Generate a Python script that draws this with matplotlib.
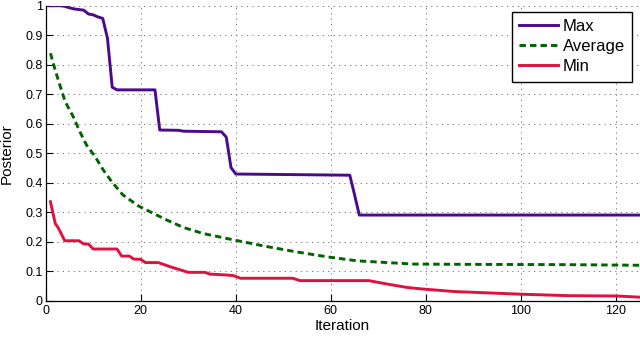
"""Posterior vs iteration: max / average / min curves."""

import matplotlib

matplotlib.use("Agg")
import matplotlib.pyplot as plt

plt.rcParams["font.family"] = ["Liberation Sans", "DejaVu Sans"]

# values (breakpoints of each curve)
max_iter = [1, 3, 4, 5, 6, 8, 9, 10, 11, 12, 13, 14, 15, 23, 24, 28, 29, 37, 38, 39, 40, 64, 65, 66, 125]
max_post = [1.0, 1.0, 0.998, 0.993, 0.989, 0.985, 0.972, 0.969, 0.962, 0.957, 0.89, 0.724, 0.715,
            0.715, 0.579, 0.578, 0.575, 0.573, 0.555, 0.452, 0.43, 0.426, 0.36, 0.291, 0.291]

avg_iter = [1, 2, 3.2, 4.1, 5.8, 7.2, 8.6, 10.4, 12.1, 13.9, 16.2, 19.5, 22, 25.5, 29, 33, 39.5,
            46, 52.5, 59.5, 65.5, 72, 77.5, 90, 110, 125]
avg_post = [0.839, 0.782, 0.72, 0.675, 0.624, 0.573, 0.528, 0.489, 0.444, 0.404, 0.36, 0.322, 0.302,
            0.274, 0.249, 0.229, 0.207, 0.186, 0.167, 0.149, 0.136, 0.13, 0.125, 0.124, 0.123, 0.121]

min_iter = [1, 2, 2.7, 4, 7, 8, 9, 10, 15, 16, 17.6, 18.5, 20, 21, 23.7, 26.2, 29, 30, 33.5, 34.6,
            38, 39.5, 41, 52, 53.5, 68, 72, 76, 79, 86, 100, 110, 120, 125]
min_post = [0.336, 0.263, 0.246, 0.204, 0.204, 0.193, 0.193, 0.176, 0.176, 0.152, 0.152, 0.142, 0.141,
            0.13, 0.13, 0.116, 0.102, 0.097, 0.097, 0.091, 0.088, 0.086, 0.077, 0.077, 0.069, 0.069,
            0.057, 0.046, 0.041, 0.032, 0.023, 0.018, 0.017, 0.013]

x_ticks = [0, 20, 40, 60, 80, 100, 120]
y_ticks = [0, 0.1, 0.2, 0.3, 0.4, 0.5, 0.6, 0.7, 0.8, 0.9, 1]
y_tick_labels = ["0", "0.1", "0.2", "0.3", "0.4", "0.5", "0.6", "0.7", "0.8", "0.9", "1"]

fig = plt.figure(figsize=(6.4, 3.38), dpi=100)
ax = fig.add_axes([0.0714, 0.1095, 0.928, 0.8736])

ax.plot(max_iter, max_post, color="#4b0a8e", lw=2.1, label="Max", solid_joinstyle="round")
ax.plot(avg_iter, avg_post, color="#006400", lw=2.1, ls=(0, (2.2, 1.4)), label="Average")
ax.plot(min_iter, min_post, color="#e0103f", lw=2.1, label="Min", solid_joinstyle="round")

ax.set_xlim(0, 125)
ax.set_ylim(0, 1)
ax.set_xticks(x_ticks)
ax.set_yticks(y_ticks, labels=y_tick_labels)
ax.tick_params(direction="in", length=5, width=0.8, labelsize=9, colors="black")
ax.tick_params(axis="x", pad=3)
ax.tick_params(axis="y", pad=2)
for side in ("top", "right"):
    ax.spines[side].set_visible(False)
for side in ("left", "bottom"):
    ax.spines[side].set_linewidth(0.9)

ax.grid(True, color="0.4", lw=0.6, ls=(0, (1.5, 5)))
ax.set_axisbelow(True)

ax.set_xlabel("Iteration", fontsize=11, labelpad=1)
ax.set_ylabel("Posterior", fontsize=11)
ax.yaxis.set_label_coords(-0.054, 0.5)

leg = ax.legend(loc="upper right", bbox_to_anchor=(632.3 / 640, 1 - 11.7 / 338),
                bbox_transform=fig.transFigure, borderaxespad=0, fontsize=12,
                fancybox=False, framealpha=1, edgecolor="black", handlelength=2.3,
                handletextpad=0.3, labelspacing=0.3, borderpad=0.45)
leg.get_frame().set_linewidth(1.0)

fig.savefig("out.png", dpi=100)
